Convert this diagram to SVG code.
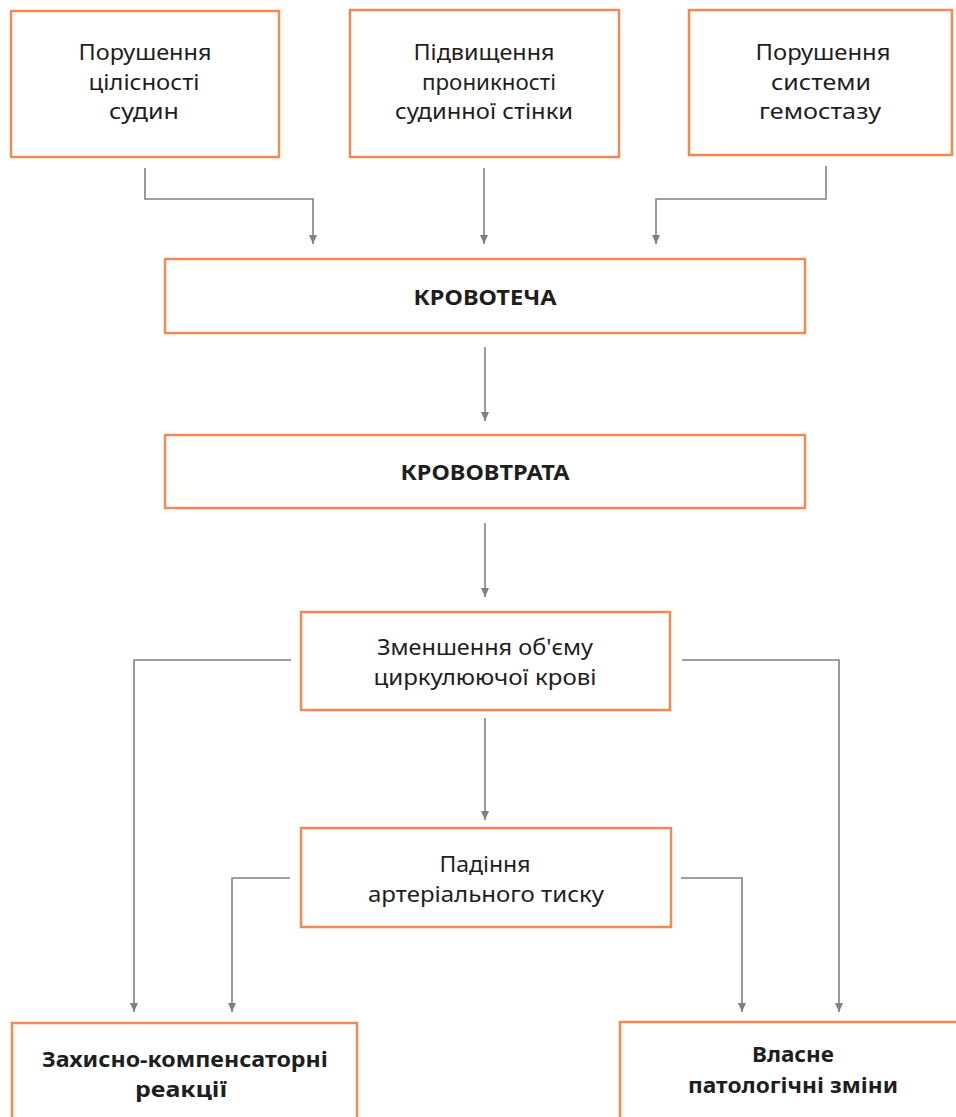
<svg xmlns="http://www.w3.org/2000/svg" width="956" height="1117" viewBox="0 0 956 1117">
<style>
.box{fill:#fff;stroke:#ee8a52;stroke-width:2.5}
.t{font-family:"Noto Sans","Open Sans",sans-serif;font-size:22px;fill:#1e1e1e;text-anchor:middle}
.b{font-family:"Noto Sans","Open Sans",sans-serif;font-size:21px;font-weight:bold;fill:#1e1e1e;text-anchor:middle}
.c{fill:none;stroke:#808080;stroke-width:1.6}
</style>
<defs>
<marker id="arr" markerUnits="userSpaceOnUse" markerWidth="10" markerHeight="12" viewBox="0 0 10 12" refX="5" refY="11" orient="auto-start-reverse">
<path d="M1,1 L9,1 L5,11 Z" fill="#808080" transform="rotate(-90 5 6)"/>
</marker>
<marker id="ad" markerUnits="userSpaceOnUse" markerWidth="10" markerHeight="12" viewBox="0 0 10 12" refX="5" refY="11" orient="0">
<path d="M1,2 L9,2 L5,11 Z" fill="#808080"/>
</marker>
</defs>
<rect width="956" height="1117" fill="#fff"/>
<g id="connectors">
<path class="c" d="M145,168 V199 H313 V244" marker-end="url(#ad)"/>
<path class="c" d="M484,168 V244" marker-end="url(#ad)"/>
<path class="c" d="M826,166 V199 H656 V244" marker-end="url(#ad)"/>
<path class="c" d="M485,347 V421" marker-end="url(#ad)"/>
<path class="c" d="M485,523 V597" marker-end="url(#ad)"/>
<path class="c" d="M291,660 H134 V1012" marker-end="url(#ad)"/>
<path class="c" d="M682,660 H839 V1012" marker-end="url(#ad)"/>
<path class="c" d="M485,718 V820" marker-end="url(#ad)"/>
<path class="c" d="M290,878 H232 V1012" marker-end="url(#ad)"/>
<path class="c" d="M681,878 H742 V1012" marker-end="url(#ad)"/>
</g>
<g id="n1">
<rect class="box" x="11" y="11" width="268" height="146"/>
<text class="t" x="145" y="60" textLength="133" lengthAdjust="spacingAndGlyphs">Порушення</text>
<text class="t" x="144" y="90" textLength="111" lengthAdjust="spacingAndGlyphs">цілісності</text>
<text class="t" x="144" y="119" textLength="70" lengthAdjust="spacingAndGlyphs">судин</text>
</g>
<g id="n2">
<rect class="box" x="350" y="10" width="269" height="147"/>
<text class="t" x="484" y="60" textLength="141" lengthAdjust="spacingAndGlyphs">Підвищення</text>
<text class="t" x="489" y="90" textLength="134" lengthAdjust="spacingAndGlyphs">проникності</text>
<text class="t" x="484" y="119" textLength="178" lengthAdjust="spacingAndGlyphs">судинної стінки</text>
</g>
<g id="n3">
<rect class="box" x="689" y="10" width="263" height="145"/>
<text class="t" x="823" y="60" textLength="135" lengthAdjust="spacingAndGlyphs">Порушення</text>
<text class="t" x="821" y="90" textLength="100" lengthAdjust="spacingAndGlyphs">системи</text>
<text class="t" x="820" y="119" textLength="122" lengthAdjust="spacingAndGlyphs">гемостазу</text>
</g>
<g id="n4">
<rect class="box" x="165" y="259" width="640" height="74"/>
<text class="b" x="485" y="305" textLength="143" lengthAdjust="spacingAndGlyphs">КРОВОТЕЧА</text>
</g>
<g id="n5">
<rect class="box" x="165" y="435" width="640" height="73"/>
<text class="b" x="485" y="480" textLength="169" lengthAdjust="spacingAndGlyphs">КРОВОВТРАТА</text>
</g>
<g id="n6">
<rect class="box" x="301" y="612" width="369" height="98"/>
<text class="t" x="485" y="655" textLength="216" lengthAdjust="spacingAndGlyphs">Зменшення об'єму</text>
<text class="t" x="485" y="685" textLength="223" lengthAdjust="spacingAndGlyphs">циркулюючої крові</text>
</g>
<g id="n7">
<rect class="box" x="301" y="828" width="370" height="99"/>
<text class="t" x="485" y="872" textLength="91" lengthAdjust="spacingAndGlyphs">Падіння</text>
<text class="t" x="486" y="902" textLength="236" lengthAdjust="spacingAndGlyphs">артеріального тиску</text>
</g>
<g id="n8">
<rect class="box" x="12" y="1023" width="345" height="110"/>
<text class="b" x="185" y="1067" textLength="286" lengthAdjust="spacingAndGlyphs">Захисно-компенсаторні</text>
<text class="b" x="181" y="1097" textLength="92" lengthAdjust="spacingAndGlyphs">реакції</text>
</g>
<g id="n9">
<rect class="box" x="620" y="1022" width="350" height="110"/>
<text class="b" x="793" y="1062" textLength="82" lengthAdjust="spacingAndGlyphs">Власне</text>
<text class="b" x="793" y="1093" textLength="210" lengthAdjust="spacingAndGlyphs">патологічні зміни</text>
</g>
</svg>
